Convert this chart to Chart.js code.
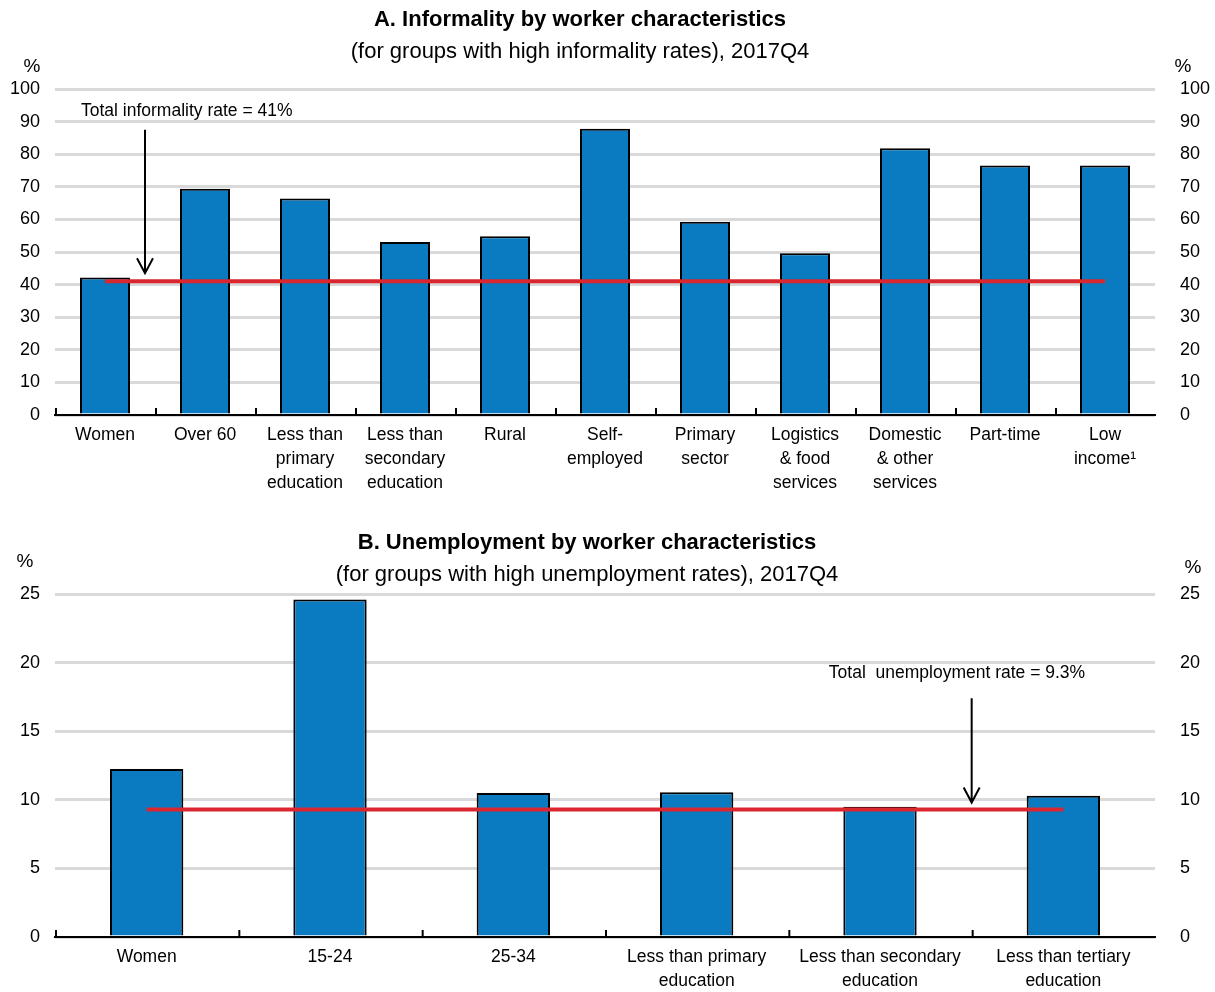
<!DOCTYPE html>
<html lang="en">
<head>
    <meta charset="UTF-8">
    <title>Informality and unemployment by worker characteristics</title>
    <style>
        body { margin: 0; background: #fff; }
        .box { position: relative; width: 1215px; }
    </style>
</head>
<body>
    <div class="box" style="height:505px"><canvas id="chartA"></canvas></div>
    <div class="box" style="height:487px"><canvas id="chartB"></canvas></div>

    <script src="https://cdn.jsdelivr.net/npm/chart.js@4.4.1/dist/chart.umd.min.js"></script>
    <script>
        // Panel A: informality
        const informalLabels = [
            'Women', 'Over 60', ['Less than', 'primary', 'education'], ['Less than', 'secondary', 'education'],
            'Rural', ['Self-', 'employed'], ['Primary', 'sector'], ['Logistics', '& food', 'services'],
            ['Domestic', '& other', 'services'], 'Part-time', ['Low', 'income\u00B9']
        ];
        const informalRates = [42.2, 69.4, 66.4, 53.1, 54.8, 87.8, 59.3, 49.6, 81.8, 76.5, 76.5];
        const informalTotalLine = [41, 41, 41, 41, 41, 41, 41, 41, 41, 41, 41];
        const informalTicks = [0, 10, 20, 30, 40, 50, 60, 70, 80, 90, 100];

        // Panel B: unemployment
        const unempLabels = [
            'Women', '15-24', '25-34', ['Less than primary', 'education'],
            ['Less than secondary', 'education'], ['Less than tertiary', 'education']
        ];
        const unempRates = [12.25, 24.6, 10.5, 10.55, 9.5, 10.3];
        const unempTotalLine = [9.3, 9.3, 9.3, 9.3, 9.3, 9.3];
        const unempTicks = [0, 5, 10, 15, 20, 25];

        const FONT = "'Liberation Sans', Arial, sans-serif";
        const BLUE = '#0a7bc1';
        const RED = '#d9262f';

        function drawArrow(ctx, x, y1, y2) {
            ctx.save();
            ctx.strokeStyle = '#000';
            ctx.lineWidth = 2;
            ctx.beginPath();
            ctx.moveTo(x, y1);
            ctx.lineTo(x, y2);
            ctx.moveTo(x - 8, y2 - 15);
            ctx.lineTo(x, y2);
            ctx.lineTo(x + 8, y2 - 15);
            ctx.stroke();
            ctx.restore();
        }

        // titles, % units, x-axis tick marks and the annotation
        function panelPlugin(cfg) {
            return {
                id: 'panel',
                afterDraw(chart) {
                    const ctx = chart.ctx;
                    const x = chart.scales.x, y = chart.scales.y;
                    const area = chart.chartArea;
                    ctx.save();
                    ctx.fillStyle = '#000';
                    ctx.textAlign = 'center';
                    ctx.textBaseline = 'middle';
                    ctx.font = 'bold 22px ' + FONT;
                    ctx.fillText(cfg.title, cfg.titleX, cfg.titleY);
                    ctx.font = '22px ' + FONT;
                    ctx.fillText(cfg.subtitle, cfg.titleX, cfg.titleY + 32);

                    ctx.font = '19px ' + FONT;
                    ctx.fillText('%', cfg.pctLeft[0], cfg.pctLeft[1]);
                    ctx.fillText('%', cfg.pctRight[0], cfg.pctRight[1]);

                    // small upward ticks at category boundaries
                    const n = chart.data.labels.length;
                    const step = (area.right - area.left) / n;
                    ctx.strokeStyle = '#000';
                    ctx.lineWidth = 2;
                    ctx.beginPath();
                    for (let i = 0; i < n; i++) {
                        const px = area.left + i * step + 1;
                        ctx.moveTo(px, area.bottom);
                        ctx.lineTo(px, area.bottom - 7);
                    }
                    ctx.stroke();

                    // annotation
                    ctx.font = '17.5px ' + FONT;
                    ctx.textAlign = cfg.note.align;
                    ctx.fillText(cfg.note.text, x.getPixelForValue(cfg.note.x), y.getPixelForValue(cfg.note.y));
                    ctx.restore();

                    drawArrow(ctx, x.getPixelForValue(cfg.arrow.x),
                        y.getPixelForValue(cfg.arrow.from), y.getPixelForValue(cfg.arrow.to));
                }
            };
        }

        function makeChart(id, labels, values, totals, ticks, barPct, xHeight, cfg) {
            const tickFont = { family: FONT, size: 18 };
            const yMax = ticks[ticks.length - 1];
            const step = ticks[1] - ticks[0];
            return new Chart(document.getElementById(id), {
                data: {
                    labels: labels,
                    datasets: [
                        {
                            type: 'line',
                            data: totals,
                            borderColor: RED,
                            borderWidth: 4,
                            pointRadius: 0,
                            order: 0
                        },
                        {
                            type: 'bar',
                            data: values,
                            backgroundColor: BLUE,
                            borderColor: '#000',
                            borderWidth: 2,
                            categoryPercentage: 1,
                            barPercentage: barPct,
                            order: 1
                        }
                    ]
                },
                options: {
                    responsive: true,
                    maintainAspectRatio: false,
                    animation: false,
                    layout: { padding: { top: 89 } },
                    plugins: { legend: { display: false }, tooltip: { enabled: false } },
                    scales: {
                        x: {
                            offset: true,
                            grid: { display: true, drawOnChartArea: false, drawTicks: false },
                            border: { display: true, color: '#000', width: 2 },
                            ticks: {
                                color: '#000',
                                font: { family: FONT, size: 17.5, lineHeight: 1.38 },
                                padding: 8, maxRotation: 0, autoSkip: false
                            },
                            afterFit(scale) { scale.height = xHeight; }
                        },
                        y: {
                            position: 'left',
                            min: 0, max: yMax,
                            grid: { color: '#d9d9d9', lineWidth: 3, drawTicks: false },
                            border: { display: false },
                            ticks: { color: '#000', font: tickFont, stepSize: step, padding: 15 },
                            afterFit(scale) { scale.width = 55; }
                        },
                        y2: {
                            position: 'right',
                            min: 0, max: yMax,
                            grid: { display: false },
                            border: { display: false },
                            ticks: { color: '#000', font: tickFont, stepSize: step, padding: 17 },
                            afterFit(scale) { scale.width = 60; }
                        }
                    }
                },
                plugins: [panelPlugin(cfg)]
            });
        }

        makeChart('chartA', informalLabels, informalRates, informalTotalLine, informalTicks, 0.5, 90, {
            title: 'A. Informality by worker characteristics',
            subtitle: '(for groups with high informality rates), 2017Q4',
            titleX: 580, titleY: 20,
            pctLeft: [32, 67], pctRight: [1183, 67],
            note: { text: 'Total informality rate = 41%', x: -0.24, y: 93.2, align: 'left' },
            arrow: { x: 0.4, from: 87.5, to: 43.5 }
        });

        makeChart('chartB', unempLabels, unempRates, unempTotalLine, unempTicks, 0.4, 55, {
            title: 'B. Unemployment by worker characteristics',
            subtitle: '(for groups with high unemployment rates), 2017Q4',
            titleX: 587, titleY: 38,
            pctLeft: [25, 57], pctRight: [1193, 63],
            note: { text: 'Total  unemployment rate = 9.3%', x: 4.42, y: 19.2, align: 'center' },
            arrow: { x: 4.5, from: 17.4, to: 9.8 }
        });
    </script>
</body>
</html>
